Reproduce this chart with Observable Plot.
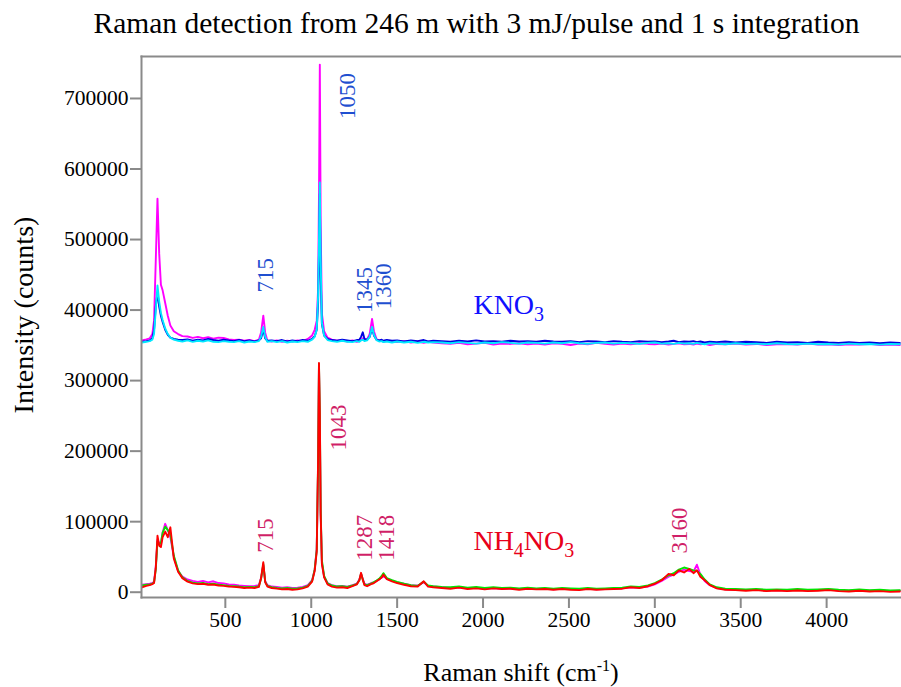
<!DOCTYPE html>
<html><head><meta charset="utf-8">
<script src="https://cdn.jsdelivr.net/npm/d3@7"></script>
<script src="https://cdn.jsdelivr.net/npm/@observablehq/plot@0.6"></script>
<style>
body{margin:0;background:#fff;}
#title{font-family:"Liberation Serif","Times New Roman",serif;font-size:29.5px;height:46px;line-height:46px;text-align:center;width:901px;padding-left:52px;box-sizing:border-box;color:#000;white-space:nowrap;}
</style></head><body>
<div id="title">Raman detection from 246 m with 3 mJ/pulse and 1 s integration</div>
<div id="chart"></div>
<script>
// Raman shift grid (cm-1)
const shift = [15,40,60,75,85,95,105,115,125,135,
150,165,180,200,225,250,280,310,340,370,
400,430,460,490,520,550,580,610,640,670,
695,708,721,732,745,770,800,830,860,890,
920,950,980,1005,1020,1032,1040,1045,1050,1055,
1062,1075,1095,1120,1150,1180,1210,1240,1265,1280,
1290,1300,1310,1325,1340,1354,1365,1380,1395,1410,
1420,1440,1470,1500,1540,1580,1620,1655,1680,1710,
1760,1810,1860,1910,1960,2010,2060,2110,2160,2210,
2260,2310,2360,2410,2460,2510,2560,2610,2660,2710,
2760,2810,2860,2910,2960,3000,3040,3080,3110,3140,
3170,3200,3225,3245,3265,3290,3320,3360,3410,3470,
3530,3590,3650,3710,3770,3830,3890,3950,4010,4070,
4130,4190,4250,4310,4370,4426];

// KNO3 spectra (counts)
const kno3Magenta = [357000,358500,360000,366000,385000,470000,558000,480000,436000,428000,
410000,392000,378000,370000,366000,363000,362500,360500,362000,360000,
361500,359500,361000,360500,358500,357500,358000,356500,357500,356000,
358000,368000,392000,368000,356500,355500,357000,355000,356500,355500,
357000,356000,359000,364000,372000,385000,430000,560000,748000,520000,
395000,370000,361000,358000,356500,357500,355500,357000,355000,356000,
357500,360000,358000,358500,366000,387500,370000,359000,356500,357000,
355000,356500,355500,354500,356000,354000,355500,353500,355000,354000,
353000,352000,353500,351500,352500,353500,351000,352500,352000,353000,
351500,352500,351000,353000,352000,350500,352500,351500,353500,352000,
351000,352500,351500,353000,352000,351500,352500,351000,352000,353000,
351500,352000,351000,352500,351500,352000,350500,352000,351500,352500,
351000,352000,350500,351500,352000,351000,352500,351000,351500,350500,
351500,351000,352000,350500,351000,350500];
const kno3Blue = [355000,356000,357000,360000,372000,405000,425000,405000,392000,383000,
372000,365000,361000,359000,358000,357500,358500,356500,358000,357000,
359000,357500,356500,358000,357000,356000,357500,356000,357000,355500,
357000,360000,372000,360000,356500,357000,356000,357500,355500,357000,
356000,357500,356500,359000,363000,372000,410000,480000,565000,450000,
380000,364000,359000,357500,356500,358000,357000,356000,357500,358000,
362000,368500,359000,358000,362000,374000,364000,358000,357000,358000,
356500,357500,356500,357000,355500,357000,356000,357500,355500,356500,
356000,355000,356500,355500,357000,355500,356000,355000,356500,355500,
356000,355000,356500,355500,355000,356000,354500,356000,355500,354500,
356000,355000,354500,356000,355000,355500,354500,355500,356500,354500,
355500,355000,356000,354500,355500,354000,355000,354500,355500,354000,
355000,354500,353500,355000,354000,354500,353500,355000,354000,353500,
354500,353500,354000,353000,354000,353500];
const kno3Cyan = [354000,355000,356000,358000,366000,400000,435000,412000,396000,386000,
374000,366000,361000,358000,356500,355500,357000,355000,356500,355500,
357000,355000,354500,356000,355000,354500,356000,354000,355500,354500,
356000,362000,376000,362000,355000,356000,354500,356000,354000,355500,
354500,356000,355000,358000,362000,372000,420000,500000,581000,470000,
382000,364000,357500,356000,355000,356500,355000,354500,356000,355000,
357000,358000,356000,357000,362000,376000,365000,357500,355500,356000,
354500,355500,354000,355500,354000,355000,353500,355000,354000,354500,
354000,353000,354500,353500,352500,354000,353000,354500,353500,352500,
354000,353500,352500,354000,353000,354500,353000,352000,353500,354000,
352500,353500,353000,352000,353500,354000,352500,353000,352000,353500,
352500,353000,352000,353500,352500,351500,353000,352500,351500,353000,
352000,352500,351500,353000,352000,351500,352500,351500,352000,351000,
352500,351500,352000,351000,352000,351500];

// NH4NO3 spectra (counts)
const nh4no3Magenta = [10500,11500,12000,13000,15000,36000,74000,70000,68000,85000,
97000,88000,78000,50000,30000,22000,18000,16000,14500,16000,
14000,15500,13000,12500,11000,10500,9500,9000,8500,9000,
10000,20000,38000,16000,10000,8000,7500,6500,7000,6000,
6500,7500,10000,17000,32000,62000,180000,322000,240000,110000,
42000,22000,13000,10000,8500,9000,8000,10000,12000,18000,
26000,19000,12000,10500,12000,13500,14000,16000,18000,21000,
23000,19000,16500,14000,12000,10000,9500,14000,9000,8000,
7000,6000,7000,5500,6500,5000,6000,5000,5500,4500,
5500,4500,5000,4000,5000,4500,4000,5000,4000,4500,
5000,5500,7000,6500,8000,11000,16000,22000,25000,29000,
32000,30000,29000,39000,25000,16000,10000,6000,4000,3500,
3000,3500,2500,3000,2500,3500,2500,3000,4000,2500,
2000,3000,2000,2500,1500,2000];
const nh4no3Green = [9500,10500,11000,12000,14000,32000,72000,68000,70000,84000,
93000,88000,82000,52000,31000,21000,16000,13500,12500,13000,
11500,12000,10500,10000,9000,8500,8000,7000,7500,7000,
8500,19000,40000,15000,9000,7000,6000,5500,6000,5000,
5500,6500,9000,16000,32000,60000,185000,324000,250000,115000,
45000,23000,12500,9500,8000,8500,7500,9500,11500,17000,
26000,18000,11000,10000,11500,13000,14500,16500,19000,23000,
27000,20000,17000,14500,12000,10000,9000,15000,9500,8500,
7500,7000,8000,6500,7500,6000,7000,6000,6500,5500,
6500,5500,6000,5000,6000,5500,5000,6000,5000,5500,
6000,6500,8000,7500,9500,13000,18000,24000,27000,32000,
35000,33000,31000,30000,26000,18000,11000,7000,5000,4500,
4000,4500,3500,4000,3500,4500,3500,4000,4500,3500,
3000,4000,3000,3500,2500,3000];
const nh4no3Red = [7000,9000,10000,11500,13000,34000,80000,66000,64000,78000,
86000,78000,92000,48000,29000,20000,15000,12500,11500,12000,
10500,11000,9500,9000,8000,7500,7000,6000,6500,6000,
7500,20000,42500,14000,8000,6000,5000,4000,4500,3500,
4000,5500,8000,15000,30000,58000,190000,325000,255000,112000,
40000,21000,11000,8000,6500,7000,6000,8500,11000,17000,
27500,17500,10000,8500,10500,12000,13000,15500,18000,21000,
25000,18500,15500,13000,10500,8500,8000,15500,8000,7000,
6000,5000,6500,4500,5500,4000,5500,4500,5000,3500,
5000,4000,4500,3500,4500,3500,3000,4500,3500,4000,
4500,5000,7000,6000,8500,12000,17000,26000,24000,31000,
28000,33000,27000,31000,22000,17000,10000,5500,3500,3000,
2000,3000,1500,2500,1500,2500,1500,2000,3000,1500,
1000,2000,1000,1500,500,1000];

// Axis ticks
const xTicks = [500,1000,1500,2000,2500,3000,3500,4000];
const yTicks = [0,100000,200000,300000,400000,500000,600000,700000];

// Peak annotations (label, Raman shift, intensity)
const kno3PeakLabels = ["715","1050","1345","1360"];
const kno3PeakX = [734,1211,1310,1420];
const kno3PeakY = [425000,671000,396000,401000];
const nh4PeakLabels = ["715","1043","1287","1418","3160"];
const nh4PeakX = [734,1159,1310,1438,3147];
const nh4PeakY = [56000,201000,44500,44500,55000];
const compoundNames = ["KNO3","NH4NO3"];
const compoundX = [1944,1944];
const compoundY = [407000,73000];

const seriesDefs = [
  {name:"KNO3 magenta", values:kno3Magenta},
  {name:"KNO3 blue", values:kno3Blue},
  {name:"KNO3 cyan", values:kno3Cyan},
  {name:"NH4NO3 magenta", values:nh4no3Magenta},
  {name:"NH4NO3 green", values:nh4no3Green},
  {name:"NH4NO3 red", values:nh4no3Red}
];
const colors = {
  "KNO3 magenta":"#ff00ff","KNO3 blue":"#0000e0","KNO3 cyan":"#00e8ff",
  "NH4NO3 magenta":"#ff00ff","NH4NO3 green":"#00e600","NH4NO3 red":"#ff0000"
};
const rows = seriesDefs.flatMap(s => shift.map((x, i) => ({x, y: s.values[i], name: s.name})));
const kPeaks = kno3PeakLabels.map((t, i) => ({t, x: kno3PeakX[i], y: kno3PeakY[i]}));
const nPeaks = nh4PeakLabels.map((t, i) => ({t, x: nh4PeakX[i], y: nh4PeakY[i]}));
const names = compoundNames.map((t, i) => ({t, x: compoundX[i], y: compoundY[i]}));

const serif = "'Liberation Serif','Times New Roman',serif";
const plot = Plot.plot({
  width: 901, height: 641,
  marginLeft: 141, marginRight: 1, marginTop: 10, marginBottom: 90,
  style: {fontFamily: serif, fontSize: "21px", background: "#fff", color: "#000"},
  x: {domain: [12, 4430], label: null},
  y: {domain: [-7500, 759500], label: null},
  marks: [
    ...seriesDefs.map(s => Plot.line(rows.filter(r => r.name === s.name), {x: "x", y: "y", stroke: colors[s.name], strokeWidth: 1.9})),
    Plot.frame({anchor: "top", stroke: "#8a8a8a", strokeWidth: 2}),
    Plot.frame({anchor: "left", stroke: "#8a8a8a", strokeWidth: 2}),
    Plot.frame({anchor: "bottom", stroke: "#8a8a8a", strokeWidth: 2}),
    Plot.axisX({ticks: xTicks, tickSize: 11, tickPadding: 3, stroke: "#8a8a8a", strokeWidth: 2, fill: "#000", fontSize: 21.5, fontFamily: serif, label: null, tickFormat: d => String(d)}),
    Plot.axisY({ticks: yTicks, tickSize: 11, tickPadding: 2, stroke: "#8a8a8a", strokeWidth: 2, fill: "#000", fontSize: 21.5, fontFamily: serif, label: null, tickFormat: d => String(d)}),
    Plot.text(kPeaks, {x: "x", y: "y", text: "t", rotate: -90, textAnchor: "start", lineAnchor: "middle", fill: "#1f4fd0", fontSize: 23}),
    Plot.text(nPeaks, {x: "x", y: "y", text: "t", rotate: -90, textAnchor: "start", lineAnchor: "middle", fill: "#d01f68", fontSize: 23}),
    Plot.text(names, {x: "x", y: "y", text: "t", textAnchor: "start", lineAnchor: "middle", fill: (d) => d.t === "KNO3" ? "#1010ff" : "#e8001a", fontSize: 28}),
    Plot.text(["Intensity (counts)"], {text: d => d, frameAnchor: "left", rotate: -90, textAnchor: "middle", lineAnchor: "middle", dx: -117, dy: -12, fontSize: 28, fill: "#000"}),
    Plot.text(["Raman shift (cm-1)"], {text: d => d, frameAnchor: "bottom", textAnchor: "middle", dy: 83, fontSize: 26, fill: "#000"})
  ]
});
// chemical subscripts / superscript as tspans
d3.select(plot).selectAll("text").each(function() {
  const t = this.textContent;
  if (t === "KNO3") this.innerHTML = 'KNO<tspan dy="7" font-size="20">3</tspan>';
  else if (t === "NH4NO3") this.innerHTML = 'NH<tspan dy="7" font-size="20">4</tspan><tspan dy="-7">NO</tspan><tspan dy="7" font-size="20">3</tspan>';
  else if (t === "Raman shift (cm-1)") this.innerHTML = 'Raman shift (cm<tspan dy="-10" font-size="16">-1</tspan><tspan dy="10">)</tspan>';
});
document.getElementById("chart").appendChild(plot);
</script>
</body></html>
